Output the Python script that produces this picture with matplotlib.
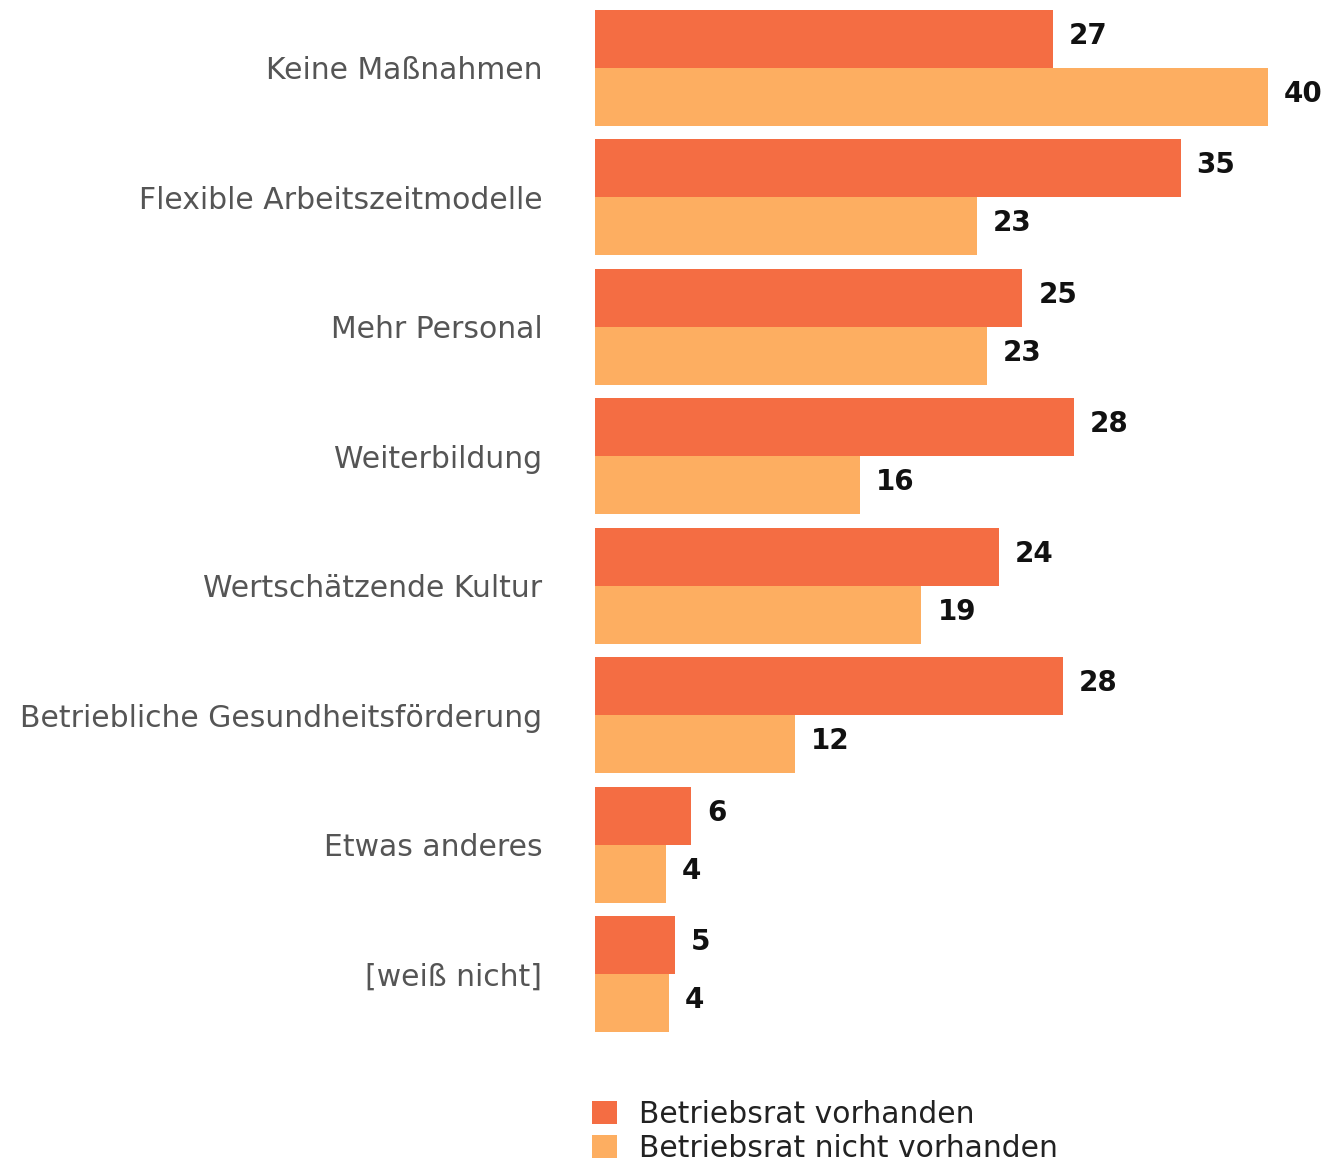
import matplotlib
matplotlib.use("Agg")
import matplotlib.pyplot as plt
import numpy as np

plt.rcParams["font.family"] = ["DejaVu Sans"]

# Daten (Prozent)
categories = [
    "Keine Maßnahmen",
    "Flexible Arbeitszeitmodelle",
    "Mehr Personal",
    "Weiterbildung",
    "Wertschätzende Kultur",
    "Betriebliche Gesundheitsförderung",
    "Etwas anderes",
    "[weiß nicht]",
]
mit_br = [27.2, 34.8, 25.4, 28.45, 24.0, 27.8, 5.7, 4.75]
ohne_br = [40.0, 22.7, 23.3, 15.75, 19.4, 11.9, 4.2, 4.4]
series_names = ["Betriebsrat vorhanden", "Betriebsrat nicht vorhanden"]

COL_MIT = "#f46d43"
COL_OHNE = "#fdae61"

fig = plt.figure(figsize=(13.25, 11.62), dpi=100)
ax = fig.add_axes([595 / 1325, 1 - 1039 / 1162, 730 / 1325, 1036 / 1162])

y = np.arange(len(categories))
h = 0.448
b1 = ax.barh(y - h / 2, mit_br, height=h, color=COL_MIT, label=series_names[0])
b2 = ax.barh(y + h / 2, ohne_br, height=h, color=COL_OHNE, label=series_names[1])

for bars, vals in ((b1, mit_br), (b2, ohne_br)):
    for bar, v in zip(bars, vals):
        ax.annotate(f"{round(v):d}", (bar.get_width(), bar.get_y() + bar.get_height() / 2),
                    xytext=(11.5, 2), textcoords="offset points", va="center", ha="left",
                    fontsize=20, fontweight="bold", color="#111111")

ax.set_xlim(0, 730 / 16.825)
ax.set_ylim(len(categories) - 0.5, -0.5)
ax.set_yticks(y)
ax.set_yticklabels(categories, fontsize=21.5, color="#555555")
ax.tick_params(axis="y", length=0, pad=38)
ax.set_xticks([])
for s in ax.spines.values():
    s.set_visible(False)

fig.legend(handles=[b1, b2], labels=series_names, loc="upper left",
           bbox_to_anchor=(592 / 1325, 1 - 1100 / 1162), frameon=False,
           fontsize=21.4, handlelength=0.84, handleheight=0.84, handletextpad=0.74,
           labelspacing=0.16, borderpad=0, borderaxespad=0, labelcolor="#222222")

fig.savefig("out.png", dpi=100)
